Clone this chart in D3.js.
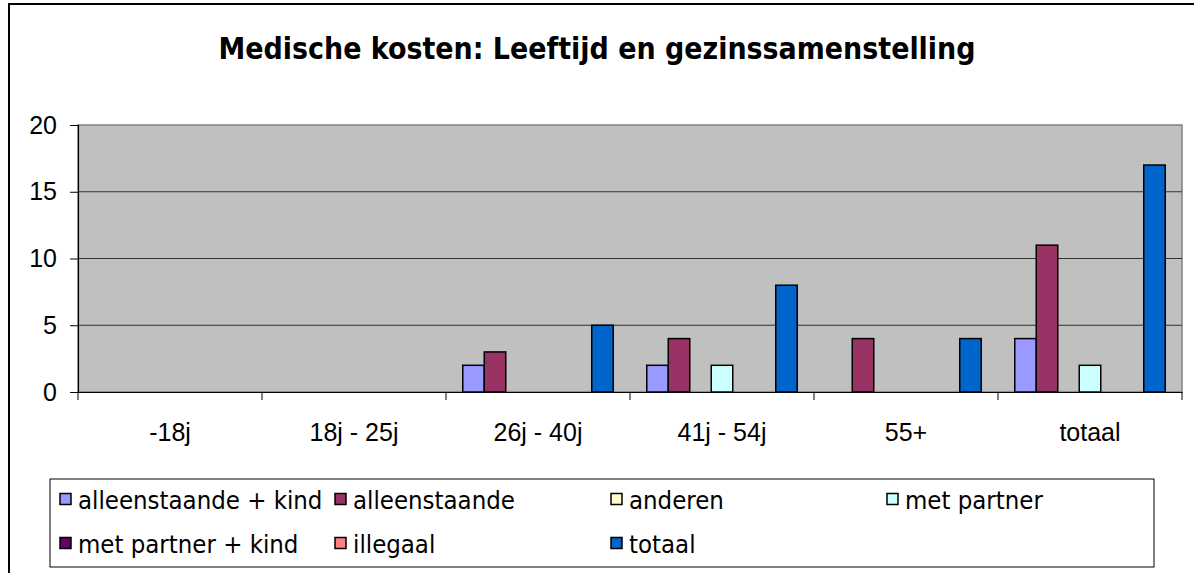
<html>
<head>
<script src="https://d3js.org/d3.v7.min.js"></script>
<style>
  body { margin: 0; background: #fff; }
  svg { font-family: "DejaVu Sans Condensed", "DejaVu Sans", sans-serif; }
</style>
</head>
<body>
<svg id="chart"></svg>
<script>
const categories = ["-18j", "18j - 25j", "26j - 40j", "41j - 54j", "55+", "totaal"];
const seriesNames = ["alleenstaande + kind", "alleenstaande", "anderen", "met partner",
                     "met partner + kind", "illegaal", "totaal"];
const seriesColors = ["#9999FF", "#993366", "#FFFFCC", "#CCFFFF", "#660066", "#FF8080", "#0066CC"];
// values per series, one per category
const alleenstaandeKind = [0, 0, 2, 2, 0, 4];
const alleenstaande     = [0, 0, 3, 4, 4, 11];
const anderen           = [0, 0, 0, 0, 0, 0];
const metPartner        = [0, 0, 0, 2, 0, 2];
const metPartnerKind    = [0, 0, 0, 0, 0, 0];
const illegaal          = [0, 0, 0, 0, 0, 0];
const totaal            = [0, 0, 5, 8, 4, 17];
const seriesValues = [alleenstaandeKind, alleenstaande, anderen, metPartner, metPartnerKind, illegaal, totaal];
const yTicks = [0, 5, 10, 15, 20];

const width = 1194, height = 573;
const plot = { left: 78, right: 1182, top: 125, bottom: 392 };

const svg = d3.select("#chart").attr("width", width).attr("height", height);

// outer chart border
svg.append("rect")
    .attr("x", 9).attr("y", 4)
    .attr("width", width + 20).attr("height", height + 20)
    .attr("fill", "#fff").attr("stroke", "#000").attr("stroke-width", 2);

svg.append("text")
    .attr("x", 597).attr("y", 59)
    .attr("text-anchor", "middle")
    .attr("font-weight", "bold")
    .attr("font-size", 31)
    .attr("textLength", 757).attr("lengthAdjust", "spacingAndGlyphs")
    .text("Medische kosten: Leeftijd en gezinssamenstelling");

const x0 = d3.scaleBand().domain(categories).range([plot.left, plot.right]).padding(0);
const x1 = d3.scaleBand().domain(d3.range(seriesNames.length))
    .range([0, x0.bandwidth()]).paddingInner(0).paddingOuter(0.78);
const y = d3.scaleLinear().domain([0, 20]).range([plot.bottom, plot.top]);

// plot background
svg.append("rect")
    .attr("x", plot.left).attr("y", plot.top)
    .attr("width", plot.right - plot.left).attr("height", plot.bottom - plot.top)
    .attr("fill", "#C0C0C0").attr("stroke", "#808080").attr("stroke-width", 1.5);

// gridlines
svg.append("g").selectAll("line")
    .data(yTicks.filter(d => d > 0 && d < 20))
    .join("line")
    .attr("x1", plot.left).attr("x2", plot.right)
    .attr("y1", d => y(d)).attr("y2", d => y(d))
    .attr("stroke", "#333").attr("stroke-width", 1);

// bars
const rows = [];
seriesValues.forEach((vals, s) => vals.forEach((v, c) => {
    if (v > 0) rows.push({ s, c, v });
}));
svg.append("g").selectAll("rect")
    .data(rows)
    .join("rect")
    .attr("x", d => x0(categories[d.c]) + x1(d.s))
    .attr("y", d => y(d.v))
    .attr("width", x1.bandwidth())
    .attr("height", d => y(0) - y(d.v))
    .attr("fill", d => seriesColors[d.s])
    .attr("stroke", "#000").attr("stroke-width", 1.5);

// y axis
const yAxis = svg.append("g")
    .attr("transform", `translate(${plot.left},0)`)
    .call(d3.axisLeft(y).tickValues(yTicks).tickSize(8).tickPadding(13));
yAxis.select(".domain").attr("stroke", "#000").attr("stroke-width", 1.2);
yAxis.selectAll(".tick line").attr("stroke", "#000");
yAxis.selectAll("text").attr("font-size", 25).attr("fill", "#000");

// x axis
const xAxis = svg.append("g")
    .attr("transform", `translate(0,${plot.bottom})`)
    .call(d3.axisBottom(x0).tickSize(0).tickPadding(31));
xAxis.select(".domain").attr("stroke", "#000").attr("stroke-width", 1.2);
xAxis.selectAll("text").attr("font-size", 25).attr("fill", "#000");
svg.append("g").selectAll("line")
    .data(categories.map(c => x0(c)).concat([plot.right]))
    .join("line")
    .attr("x1", d => d).attr("x2", d => d)
    .attr("y1", plot.bottom).attr("y2", plot.bottom + 8)
    .attr("stroke", "#000");

// legend
const legend = svg.append("g");
legend.append("rect")
    .attr("x", 50).attr("y", 479).attr("width", 1104).attr("height", 88)
    .attr("fill", "#fff").attr("stroke", "#000").attr("stroke-width", 1);
const legendCols = [60, 335, 611, 887];
const legendPos = [[0, 0], [1, 0], [2, 0], [3, 0], [0, 1], [1, 1], [2, 1]];
const items = legend.selectAll("g.item")
    .data(seriesNames.map((n, i) => ({ n, i })))
    .join("g")
    .attr("class", "item")
    .attr("transform", d => `translate(${legendCols[legendPos[d.i][0]]},${499 + legendPos[d.i][1] * 44})`);
items.append("rect")
    .attr("x", 0).attr("y", -5.5).attr("width", 11).attr("height", 11)
    .attr("fill", d => seriesColors[d.i]).attr("stroke", "#000").attr("stroke-width", 1.5);
items.append("text")
    .attr("x", 18).attr("y", 10)
    .attr("font-size", 25.5)
    .text(d => d.n);
</script>
</body>
</html>
